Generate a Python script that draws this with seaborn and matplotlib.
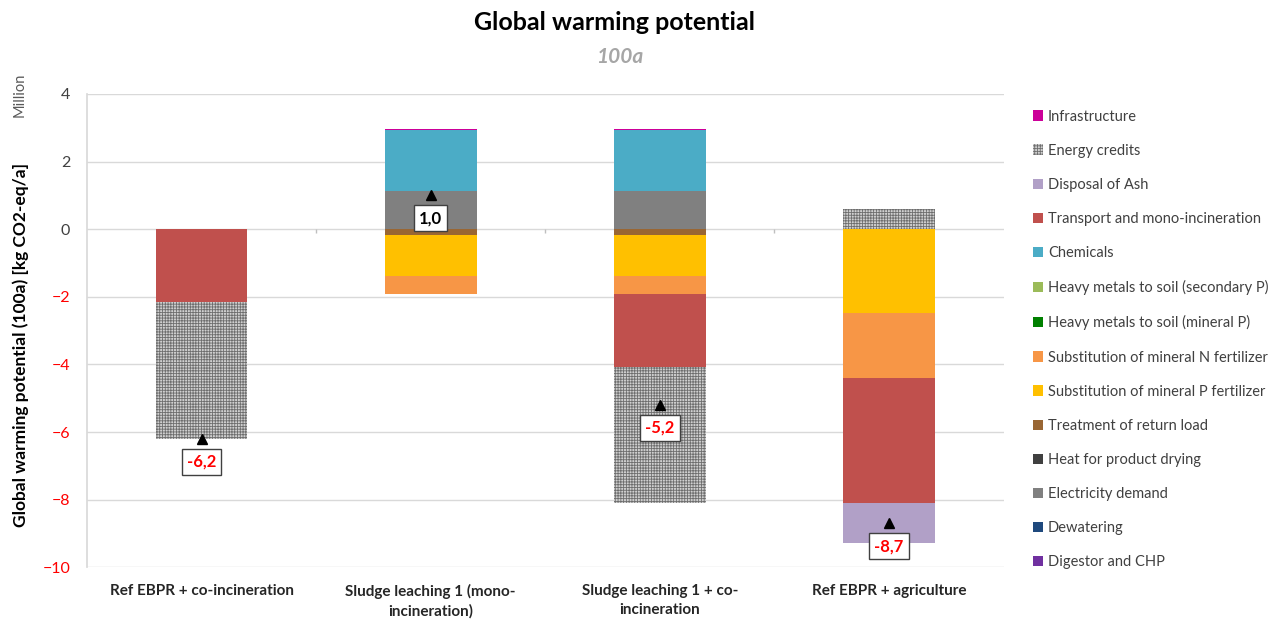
import numpy as np
import matplotlib.pyplot as plt
import seaborn as sns
from matplotlib.patches import Patch

sns.set_theme(style="white")
plt.rcParams['font.family'] = ['Lato', 'DejaVu Sans']
plt.rcParams['hatch.linewidth'] = 0.6

# Data (million kg CO2-eq/a), series in stacking order
scenarios = ["Ref EBPR + co-incineration",
             "Sludge leaching 1 (mono-\nincineration)",
             "Sludge leaching 1 + co-\nincineration",
             "Ref EBPR + agriculture"]

digestor = [0, 0, 0, 0]
dewatering = [0, 0, 0, 0]
electricity = [0, 1.14, 1.14, 0]
heat_drying = [0, 0, 0, 0]
return_load = [0, -0.18, -0.18, 0]
subst_p = [0, -1.22, -1.22, -2.49]
subst_n = [0, -0.52, -0.52, -1.92]
hm_mineral = [0, 0, 0, 0]
hm_secondary = [0, 0, 0, 0]
chemicals = [0, 1.78, 1.78, 0]
transport = [-2.15, 0, -2.17, -3.68]
disposal_ash = [0, 0, 0, -1.19]
energy_credits = [-4.05, 0, -4.0, 0.59]
infrastructure = [0, 0.03, 0.03, 0]

totals = [-6.2, 1.0, -5.2, -8.7]

series = [
    ("Digestor and CHP", digestor, "#7030a0"),
    ("Dewatering", dewatering, "#1f497d"),
    ("Electricity demand", electricity, "#808080"),
    ("Heat for product drying", heat_drying, "#404040"),
    ("Treatment of return load", return_load, "#996633"),
    ("Substitution of mineral P fertilizer", subst_p, "#ffc000"),
    ("Substitution of mineral N fertilizer", subst_n, "#f79646"),
    ("Heavy metals to soil (mineral P)", hm_mineral, "#008000"),
    ("Heavy metals to soil (secondary P)", hm_secondary, "#9bbb59"),
    ("Chemicals", chemicals, "#4bacc6"),
    ("Transport and mono-incineration", transport, "#c0504d"),
    ("Disposal of Ash", disposal_ash, "#b1a0c7"),
    ("Energy credits", energy_credits, "#d0d0d0"),
    ("Infrastructure", infrastructure, "#cc0099"),
]

fig = plt.figure(figsize=(12.8, 6.22), dpi=100)
ax = fig.add_axes([0.068, 0.088, 0.716, 0.761])

pos_base = np.zeros(len(scenarios))
neg_base = np.zeros(len(scenarios))
handles = []
for name, vals, col in series:
    vals = np.array(vals, dtype=float)
    bottom = np.where(vals >= 0, pos_base, neg_base)
    hatched = name == "Energy credits"
    sns.barplot(x=scenarios, y=vals, bottom=bottom, color=col, saturation=1,
                width=0.4, linewidth=0, ax=ax,
                hatch="++++++" if hatched else None,
                edgecolor="#6e6e6e" if hatched else col)
    pos_base += np.clip(vals, 0, None)
    neg_base += np.clip(vals, None, 0)
    handles.append(Patch(facecolor=col, edgecolor="#6e6e6e" if hatched else col,
                         hatch="++++++" if hatched else None, linewidth=0,
                         label=name))

# net result markers with labels
for i, t in enumerate(totals):
    ax.plot(i, t, marker="^", color="black", markersize=7, zorder=5)
    ax.annotate(f"{t:.1f}".replace(".", ","), (i, t), xytext=(0, -16.5),
                textcoords="offset points", ha="center", va="center",
                fontsize=12, fontweight="bold",
                color="red" if t < 0 else "black", zorder=6,
                bbox=dict(boxstyle="square,pad=0.3", fc="white", ec="#404040", lw=1))

ax.set_ylim(-10, 4)
ax.set_xlim(-0.5, 3.5)
ax.set_yticks(np.arange(-10, 5, 2))
ax.yaxis.grid(True, color="#d9d9d9", linewidth=1)
ax.set_axisbelow(True)
for s in ["top", "right", "bottom"]:
    ax.spines[s].set_visible(False)
ax.spines["left"].set_color("#d9d9d9")
ax.tick_params(axis="y", length=4, color="#d9d9d9", labelsize=11.5, pad=8)
ax.tick_params(axis="x", length=0, labelsize=11, pad=12)
for lbl in ax.get_yticklabels():
    lbl.set_color("red" if lbl.get_text().startswith(("-", "\u2212")) else "#404040")
for lbl in ax.get_xticklabels():
    lbl.set_fontweight("bold")
    lbl.set_color("#262626")
    lbl.set_linespacing(1.45)

# category separator ticks on the zero line
ax.vlines([0.5, 1.5, 2.5], -0.12, 0, color="#bfbfbf", linewidth=1)

ax.set_xlabel("")
ax.set_ylabel("Global warming potential (100a) [kg CO2-eq/a]", fontsize=12.5,
              fontweight="bold", color="#000000")
ax.yaxis.set_label_coords(-0.063, 0.47)
fig.text(0.015, 0.847, "Million", rotation=90, fontsize=10.5, color="#595959",
         ha="center", va="center")

fig.text(0.48, 0.964, "Global warming potential", ha="center", va="center",
         fontsize=18, fontweight="bold", color="black")
fig.text(0.484, 0.908, "100a", ha="center", va="center", fontsize=15,
         fontweight="bold", style="italic", color="#a6a6a6")

fig.legend(handles=handles[::-1], loc="upper left", bbox_to_anchor=(0.797, 0.845),
           frameon=False, fontsize=10.5, handlelength=0.7, handleheight=0.7,
           handletextpad=0.3, labelspacing=1.38, labelcolor="#404040")

fig.savefig("out.png", dpi=100)
